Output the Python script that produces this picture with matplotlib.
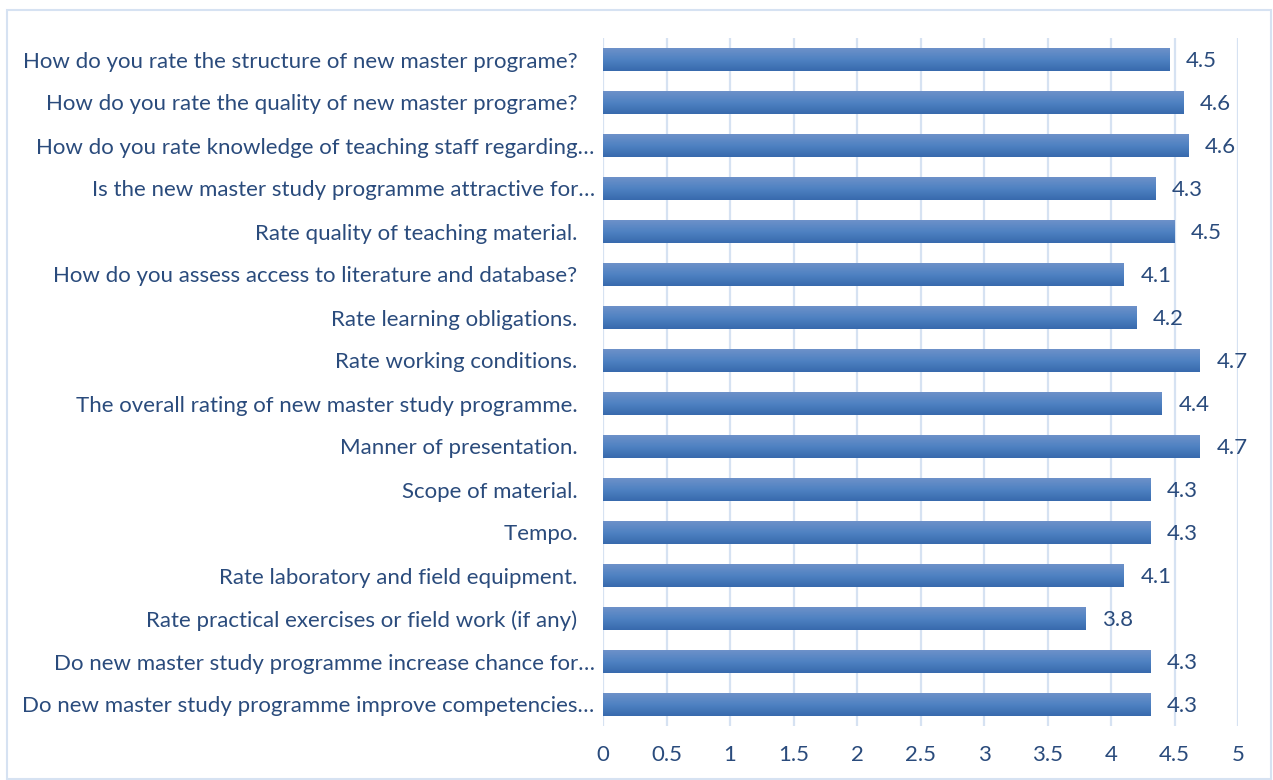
import matplotlib.pyplot as plt
import numpy as np
from matplotlib.colors import LinearSegmentedColormap
from matplotlib.patches import Rectangle

questions = [
    "How do you rate the structure of new master programe?   ",
    "How do you rate the quality of new master programe?   ",
    "How do you rate knowledge of teaching staff regarding…",
    "Is the new master study programme attractive for…",
    "Rate quality of teaching material.   ",
    "How do you assess access to literature and database?   ",
    "Rate learning obligations.   ",
    "Rate working conditions.   ",
    "The overall rating of new master study programme.   ",
    "Manner of presentation.   ",
    "Scope of material.   ",
    "Tempo.   ",
    "Rate laboratory and field equipment.   ",
    "Rate practical exercises or field work (if any)   ",
    "Do new master study programme increase chance for…",
    "Do new master study programme improve competencies…",
]
scores = [4.46, 4.57, 4.61, 4.35, 4.50, 4.10, 4.20, 4.70,
          4.40, 4.70, 4.31, 4.31, 4.10, 3.80, 4.31, 4.31]
xticks = [0, 0.5, 1, 1.5, 2, 2.5, 3, 3.5, 4, 4.5, 5]

text_col = "#2a4b7c"
grid_col = "#d6e2f2"
bar_cmap = LinearSegmentedColormap.from_list("bar", ["#6d91c9", "#4f82c2", "#386aad"])

plt.rcParams['font.family'] = ['Lato', 'DejaVu Sans']

fig = plt.figure(figsize=(12.73, 7.8), dpi=100)
ax = fig.add_axes([603 / 1273, 1 - 726 / 780, 635 / 1273, 688 / 780])

n = len(questions)
ypos = np.arange(n)
h = 0.53
grad = np.linspace(0, 1, 64).reshape(-1, 1)
for y, v in zip(ypos, scores):
    ax.imshow(grad, cmap=bar_cmap, aspect='auto', origin='upper',
              extent=(0, v, y + h / 2, y - h / 2), zorder=3, interpolation='bilinear')
    ax.annotate(f"{v:.1f}", (v, y), xytext=(12, -1), textcoords='offset points',
                va='center', ha='left', fontsize=16, color=text_col)

ax.set_xlim(0, 5)
ax.set_ylim(n - 0.5, -0.5)
ax.set_xticks(xticks)
ax.set_xticklabels([f"{t:g}" for t in xticks])
ax.set_yticks(ypos)
ax.set_yticklabels(questions)
ax.tick_params(axis='both', length=0, labelsize=16, labelcolor=text_col)
ax.tick_params(axis='x', pad=14)
ax.tick_params(axis='y', pad=6)
ax.grid(axis='x', color=grid_col, linewidth=1.6, zorder=0)
ax.set_axisbelow(True)
for s in ax.spines.values():
    s.set_visible(False)

fig.patches.append(Rectangle((7 / 1273, 1 / 780), 1264 / 1273, 769 / 780,
                             transform=fig.transFigure, fill=False,
                             edgecolor=grid_col, linewidth=1.5))

fig.savefig("out.png", dpi=100)
